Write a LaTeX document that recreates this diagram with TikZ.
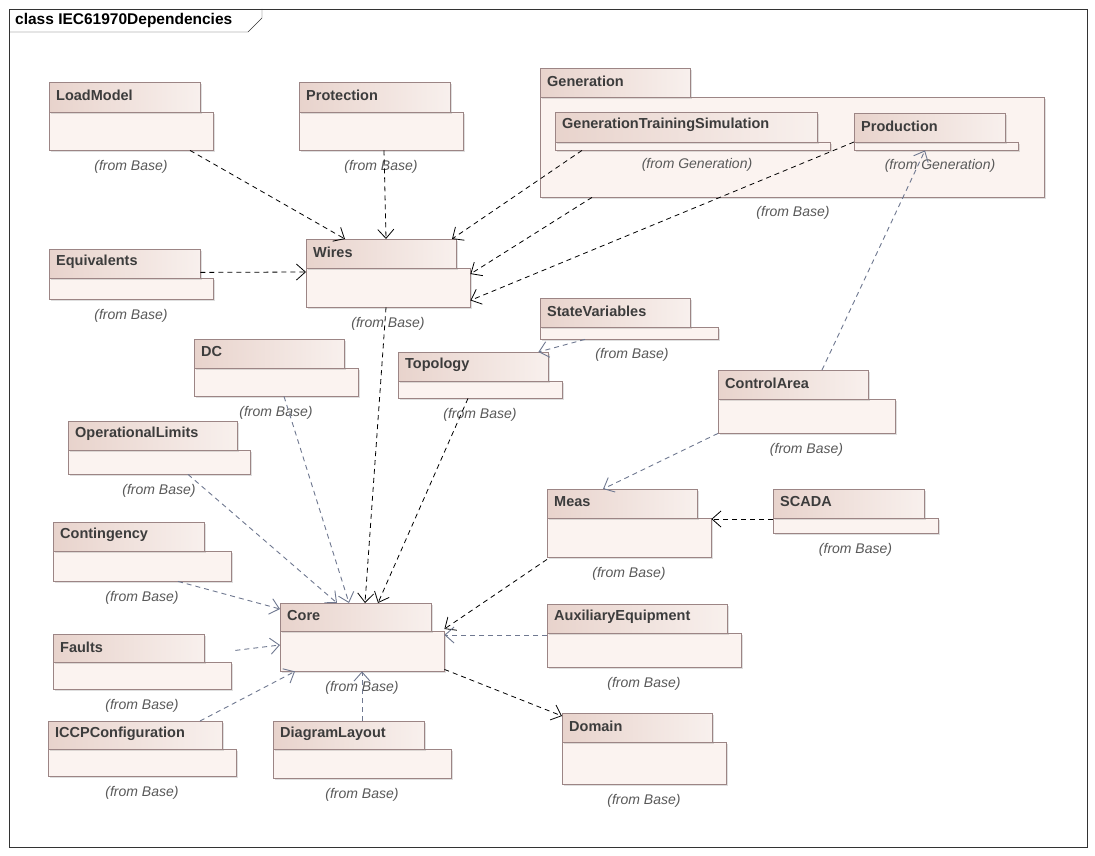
\documentclass[tikz,border=0pt]{standalone}
\usepackage{fontspec}
\setmainfont{Liberation Sans}
\usetikzlibrary{arrows.meta,shadows,calc}
\definecolor{pb}{HTML}{9C8585}
\definecolor{tl}{HTML}{E8D3CC}
\definecolor{tr}{HTML}{F8F0ED}
\definecolor{bd}{HTML}{FBF3F0}
\definecolor{gl}{HTML}{6F7890}
\definecolor{tx}{HTML}{3C3C3C}
\tikzset{
 tab/.style={draw=pb,left color=tl,right color=tr,anchor=north west,inner sep=0pt,
   drop shadow={shadow xshift=2pt,shadow yshift=-2pt,opacity=0.25}},
 body/.style={draw=pb,fill=bd,anchor=north west,inner sep=0pt,
   drop shadow={shadow xshift=2pt,shadow yshift=-2pt,opacity=0.25}},
 lbl/.style={anchor=west,font=\fontsize{14.5}{16}\selectfont\bfseries,text=tx,inner sep=0pt},
 from/.style={font=\fontsize{14}{16}\selectfont\itshape,text=black!65},
 dep/.style={dash pattern=on 5pt off 4pt,-{Straight Barb[length=9pt,width=16pt]}},
 gdep/.style={dep,draw=gl,line width=0.9pt},
 bdep/.style={dep,draw=black,thick},
}
\newcommand{\pkg}[9]{%
 \node[body,minimum width={(#5)-(#2)},minimum height={(#6)-(#4)}] (#1) at (#2,#4) {};
 \node[tab,minimum width={(#3)-(#2)},minimum height={(#4)-(#7)}] (#1-t) at (#2,#7) {};
 \node[lbl] (#1-l) at ($(#2,#7)+(7,13)$) {#8};
 \node[from] (#1-f) at ($({((#2)+(#5))/2},#6)+(0,17)$) {#9};
}
\begin{document}
\begin{tikzpicture}[x=1pt,y=-1pt]
\useasboundingbox (0,0) rectangle (1095,856);
\fill[white] (0,0) rectangle (1095,856);
\draw[black!80] (9,9) rectangle (1087,847);
\draw[black!80] (9,32) -- (248,32) -- (262,18) -- (262,9);
\node[anchor=west,font=\fontsize{15.5}{17}\selectfont\bfseries,inner sep=0pt] (title) at (15,20) {class IEC61970Dependencies};
\pkg{LoadModel}{49}{200}{112}{213}{150}{82}{LoadModel}{(from Base)}
\pkg{Protection}{299}{450}{112}{463}{150}{82}{Protection}{(from Base)}
\pkg{Generation}{540}{690}{97}{1044}{197}{68}{Generation}{}
\node[from] (Generation-f2) at (793,213) {(from Base)};
\pkg{GTS}{555}{817}{142}{830}{150}{112}{GenerationTrainingSimulation}{}
\node[from] (GTS-f2) at (697,165) {(from Generation)};
\pkg{Production}{854}{1005}{142}{1018}{150}{113}{Production}{}
\node[from] (Production-f2) at (940,166) {(from Generation)};
\pkg{Wires}{306}{456}{268}{470}{307}{239}{Wires}{(from Base)}
\pkg{Equivalents}{49}{200}{278}{213}{299}{249}{Equivalents}{(from Base)}
\pkg{StateVariables}{540}{690}{327}{718}{339}{298}{StateVariables}{}
\node[from] (SV-f2) at (632,355) {(from Base)};
\pkg{DC}{194}{344}{368}{358}{396}{339}{DC}{(from Base)}
\pkg{Topology}{398}{548}{381}{562}{398}{352}{Topology}{(from Base)}
\pkg{ControlArea}{718}{868}{399}{895}{433}{370}{ControlArea}{(from Base)}
\pkg{OperationalLimits}{68}{237}{450}{250}{474}{421}{OperationalLimits}{(from Base)}
\pkg{Meas}{547}{697}{518}{711}{557}{489}{Meas}{(from Base)}
\pkg{SCADA}{773}{924}{518}{938}{533}{489}{SCADA}{(from Base)}
\pkg{Contingency}{53}{204}{551}{231}{581}{522}{Contingency}{(from Base)}
\pkg{Core}{280}{431}{631}{444}{671}{603}{Core}{(from Base)}
\pkg{Aux}{547}{727}{633}{741}{667}{604}{AuxiliaryEquipment}{(from Base)}
\pkg{Faults}{53}{204}{662}{231}{689}{634}{Faults}{(from Base)}
\pkg{Domain}{562}{712}{742}{726}{784}{713}{Domain}{(from Base)}
\pkg{ICCP}{48}{222}{749}{236}{776}{721}{ICCPConfiguration}{(from Base)}
\pkg{DiagramLayout}{273}{424}{749}{451}{778}{721}{DiagramLayout}{(from Base)}
% black dependencies
\draw[bdep] ([shift={(141,0)}]LoadModel.south west) -- ([shift={(39,0)}]Wires-t.north west);
\draw[bdep] ([shift={(85,0)}]Protection.south west) -- ([shift={(80,0)}]Wires-t.north west);
\draw[bdep] ([shift={(27,0)}]GTS.south west) -- ([shift={(146,0)}]Wires-t.north west);
\draw[bdep] ([shift={(52,0)}]Generation.south west) -- ([shift={(0,6)}]Wires.north east);
\draw[bdep] (Production.north west) -- ([shift={(0,-7)}]Wires.south east);
\draw[bdep] ([shift={(0,-6)}]Equivalents-t.south east) -- ([shift={(0,4)}]Wires.north west);
\draw[bdep] ([shift={(80,0)}]Wires.south west) -- ([shift={(85,0)}]Core-t.north west);
\draw[bdep] ([shift={(70,0)}]Topology.south west) -- ([shift={(98,0)}]Core-t.north west);
\draw[bdep] ([shift={(0,2)}]Meas.south west) -- ([shift={(0,-2)}]Core.north east);
\draw[bdep] ([shift={(0,-2)}]Core.south east) -- ([shift={(0,3)}]Domain-t.north west);
\draw[bdep] ([shift={(0,1)}]SCADA.north west) -- ([shift={(0,1)}]Meas.north east);
% gray dependencies
\draw[gdep] ([shift={(45,0)}]StateVariables.south west) -- ([shift={(-10,0)}]Topology-t.north east);
\draw[gdep] ([shift={(104,0)}]ControlArea-t.north west) -- ([shift={(71,0)}]Production.south west);
\draw[gdep] (ControlArea.south west) -- ([shift={(56,0)}]Meas-t.north west);
\draw[gdep] ([shift={(90,0)}]DC.south west) -- ([shift={(69,0)}]Core-t.north west);
\draw[gdep] ([shift={(120,0)}]OperationalLimits.south west) -- ([shift={(57,0)}]Core-t.north west);
\draw[gdep] ([shift={(125,0)}]Contingency.south west) -- ([shift={(0,6)}]Core-t.north west);
\draw[gdep] ([shift={(31,-12)}]Faults-t.south east) -- ([shift={(0,14)}]Core.north west);
\draw[gdep] ([shift={(152,0)}]ICCP-t.north west) -- ([shift={(15,0)}]Core.south west);
\draw[gdep] ([shift={(89,0)}]DiagramLayout-t.north west) -- ([shift={(82,0)}]Core.south west);
\draw[gdep] ([shift={(0,2)}]Aux.north west) -- ([shift={(0,4)}]Core.north east);
\end{tikzpicture}
\end{document}
